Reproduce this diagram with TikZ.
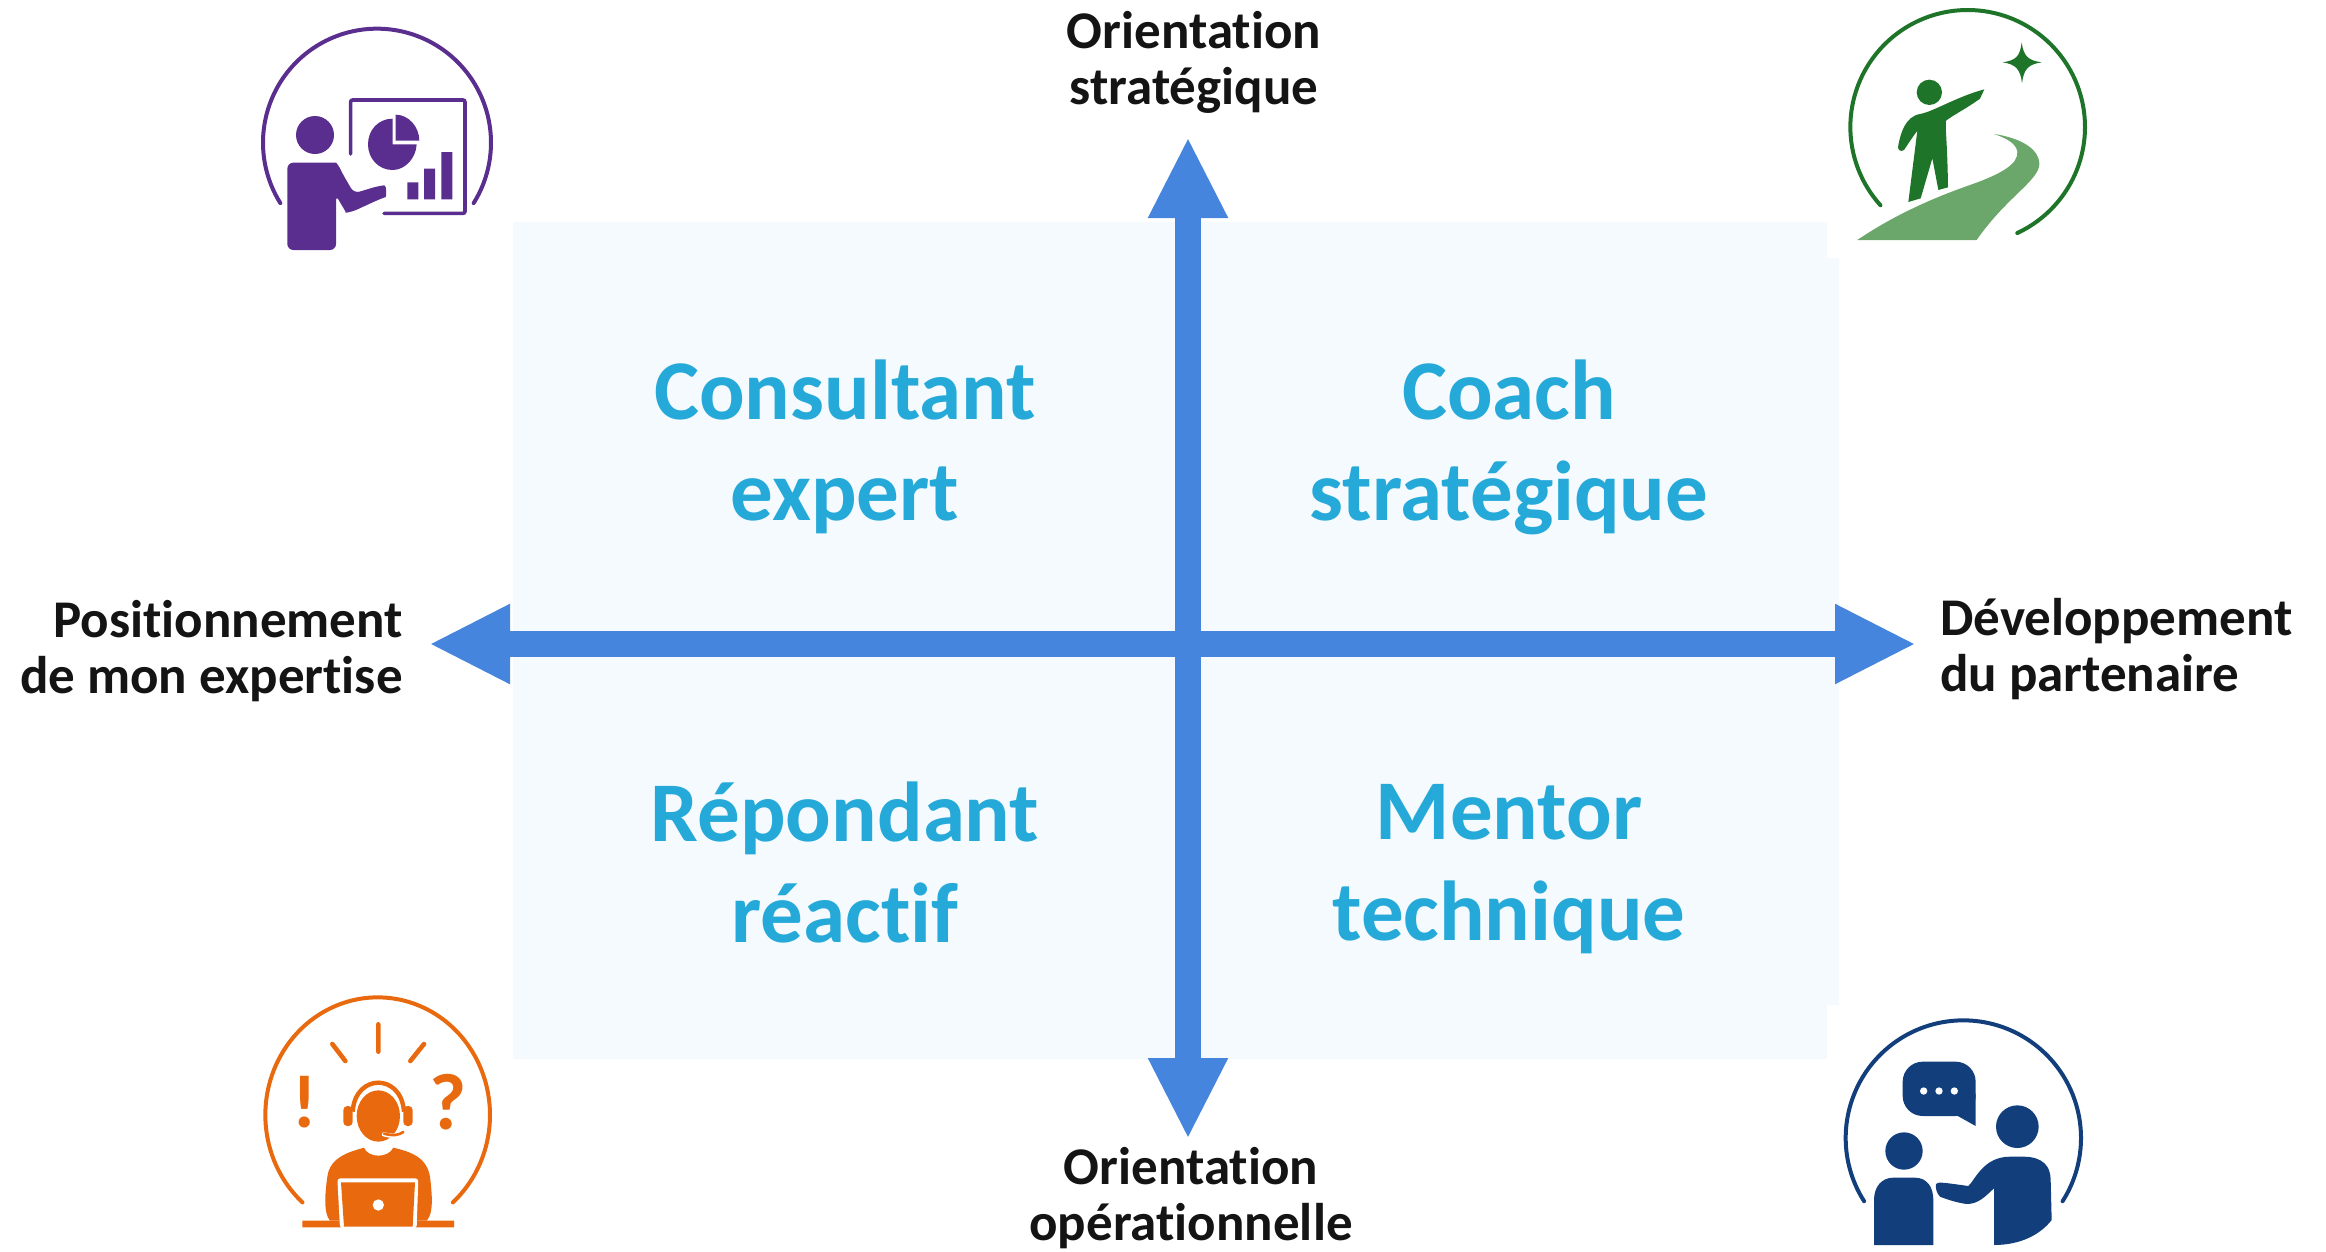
\documentclass[tikz,border=0pt]{standalone}
\usepackage{fontspec}
\setmainfont{Carlito}[Ligatures=NoCommon]
\usetikzlibrary{arrows.meta}
\definecolor{panelc}{HTML}{F4FAFD}
\definecolor{axisc}{HTML}{4585DD}
\definecolor{quadc}{HTML}{25A9D8}
\definecolor{labelc}{HTML}{141414}
\definecolor{purplec}{HTML}{5A2E8E}
\definecolor{greenc}{HTML}{1E7529}
\definecolor{roadc}{HTML}{6BA76B}
\definecolor{orangec}{HTML}{E9690F}
\definecolor{bluec}{HTML}{123F7C}
\tikzset{
  axisline/.style={draw=axisc,line width=26pt,{Triangle[length=81pt,width=74pt]}-{Triangle[length=81pt,width=74pt]}},
  quadlabel/.style={text=quadc,font=\fontsize{85}{101}\selectfont\bfseries,align=center,inner sep=0pt},
  axislabel/.style={text=labelc,font=\fontsize{53}{56}\selectfont\bfseries,inner sep=0pt},
  icon/.style={x=0.33333pt,y=-0.33333pt},
  hoopline/.style={line width=4pt,line cap=round,fill=none},
}
% centre x, centre y, rx, ry, start, end (angles, y pointing down)
\newcommand{\hoop}[7]{\draw[hoopline,draw=#1] plot[domain=#6:#7,samples=90,smooth] ({#2+#4*cos(\x)},{#3+#5*sin(\x)});}
\begin{document}
\begin{tikzpicture}[x=1pt,y=-1pt]
\useasboundingbox (0,0) rectangle (2326,1251);
% panel
\fill[panelc] (513,222) -- (1827,222) -- (1827,258) -- (1839,258) -- (1839,1005) -- (1827,1005) -- (1827,1059) -- (513,1059) -- cycle;
% axes
\coordinate (axisW) at (429,644);
\coordinate (axisE) at (1916,644);
\coordinate (axisN) at (1188,137);
\coordinate (axisS) at (1188,1139);
\draw[axisline] (axisW) -- (axisE);
\draw[axisline] (axisN) -- (axisS);
% quadrant labels
\node[quadlabel] (consultant) at (845,447) {Consultant\\expert};
\node[quadlabel] (coach) at (1509,447) {Coach\\stratégique};
\node[quadlabel] (repondant) at (845,862) {Répondant\\réactif};
\node[quadlabel] (mentor) at (1509,869) {Mentor\\technique};
% axis labels
\node[axislabel,align=center] (north) at (1194,62.5) {Orientation\\stratégique};
\node[axislabel,align=center] (south) at (1191,1198.5) {Orientation\\opérationnelle};
\node[axislabel,align=right,anchor=east] (west) at (403,651.5) {Positionnement\\de mon expertise};
\node[axislabel,align=left,anchor=west] (east) at (1940,649.5) {Développement\\du partenaire};
% purple icon
\begin{scope}[shift={(230,0)},icon]
\hoop{purplec}{441}{428}{342}{342}{148}{392}
\fill[purplec] (255,405) circle[radius=57];
\fill[purplec,rounded corners=6pt] (172,750) -- (172,488) -- (300,488) .. controls (320,488) and (330,505) .. (337,520) -- (372,580) -- (445,558) .. controls (470,555) and (470,590) .. (450,597) -- (365,636) .. controls (350,638) and (340,625) .. (318,585) -- (318,750) -- cycle;
\draw[purplec,line width=3.6pt,line cap=round,rounded corners=2pt] (362,462) -- (362,300) -- (705,300) -- (705,640) -- (462,640);
\fill[purplec] (488,433) -- (488,356) .. controls (445,356) and (414,390) .. (414,433) .. controls (414,475) and (445,510) .. (488,510) .. controls (525,510) and (558,475) .. (560,433) -- cycle;
\fill[purplec] (497,422) -- (497,344) .. controls (535,344) and (568,380) .. (568,422) -- cycle;
\fill[purplec] (532,547) rectangle (565,598) (582,506) rectangle (615,598) (634,456) rectangle (667,598);
\end{scope}
% green icon
\begin{scope}[shift={(1810,0)},icon]
\hoop{greenc}{473}{381}{352}{351}{138}{425}
\fill[roadc] (142,720) .. controls (260,640) and (380,590) .. (480,555) .. controls (580,520) and (625,490) .. (622,455) .. controls (618,430) and (590,415) .. (552,402) .. controls (620,412) and (685,440) .. (688,490) .. controls (690,540) and (590,590) .. (500,720) -- cycle;
\fill[greenc] (358,277) circle[radius=38];
\fill[greenc] (635,127) .. controls (641,170) and (655,181) .. (695,187) .. controls (655,193) and (641,207) .. (636,250) .. controls (631,207) and (617,193) .. (578,187) .. controls (617,181) and (630,170) .. (635,127) -- cycle;
\fill[greenc] (330,342) .. controls (370,335) and (440,290) .. (523,268) -- (510,296) .. controls (470,325) and (430,345) .. (408,362) .. controls (405,385) and (412,420) .. (414,562) -- (385,570) -- (367,475) -- (332,595) -- (295,606) -- (322,392) .. controls (305,415) and (292,435) .. (282,450) .. controls (272,458) and (260,448) .. (265,435) .. controls (272,400) and (285,350) .. (330,342) -- cycle;
\end{scope}
% orange icon
\begin{scope}[shift={(230,980)},icon]
\hoop{orangec}{443}{405}{337}{353}{132}{408}
\draw[orangec,line width=4.6pt,line cap=round] (445,133) -- (445,215) (307,192) -- (346,243) (582,192) -- (541,243);
\node[inner sep=0pt,text=orangec,font=\fontsize{75}{75}\selectfont\bfseries] (bang) at (225,365) {!};
\node[inner sep=0pt,text=orangec,font=\fontsize{80}{80}\selectfont\bfseries] (query) at (655,365) {?};
\draw[orangec,line width=4.4pt] (368,395) .. controls (372,335) and (410,308) .. (445,308) .. controls (480,308) and (518,335) .. (522,395);
\fill[orangec,rounded corners=4pt] (340,378) rectangle (368,438);
\fill[orangec,rounded corners=4pt] (520,378) rectangle (548,438);
\fill[orangec] (445,408) ellipse[x radius=65,y radius=77];
\draw[white,line width=4.4pt,line cap=round] (462,463) .. controls (490,470) and (505,468) .. (520,458);
\draw[orangec,line width=2.6pt,line cap=round] (462,461) .. controls (490,468) and (505,466) .. (520,456);
\fill[orangec] (300,722) .. controls (280,700) and (285,640) .. (292,590) .. controls (300,530) and (360,515) .. (402,503) .. controls (415,535) and (475,535) .. (490,503) .. controls (540,515) and (590,530) .. (600,590) .. controls (606,640) and (612,700) .. (590,722) -- cycle;
\fill[orangec] (217,722) rectangle (340,742) (550,722) rectangle (672,742);
\fill[white,rounded corners=3pt] (322,595) -- (565,595) -- (560,745) -- (330,745) -- cycle;
\fill[orangec] (333,607) -- (555,607) -- (548,740) -- (342,740) -- cycle;
\fill[white] (445,675) circle[radius=17];
\end{scope}
% blue icon
\begin{scope}[shift={(1810,1000)},icon]
\hoop{bluec}{460}{414}{353}{353}{147.5}{392.5}
\fill[bluec,rounded corners=20pt] (278,185) rectangle (497,348);
\fill[bluec] (497,280) -- (497,378) -- (438,345) -- cycle;
\fill[white] (341,273) circle[radius=11] (387,273) circle[radius=11] (433,273) circle[radius=11];
\fill[bluec] (622,380) circle[radius=64];
\fill[bluec] (282,453) circle[radius=56];
\fill[bluec] (192,735) -- (192,600) .. controls (192,560) and (215,533) .. (250,533) -- (315,533) .. controls (350,533) and (370,560) .. (370,600) -- (370,735) -- cycle;
\fill[bluec] (378,552) .. controls (385,545) and (395,547) .. (475,558) .. controls (495,540) and (520,470) .. (600,470) -- (640,470) .. controls (700,470) and (722,500) .. (722,540) -- (725,660) .. controls (690,705) and (630,735) .. (552,735) -- (552,565) .. controls (525,590) and (505,612) .. (470,612) .. controls (440,608) and (410,598) .. (390,590) .. controls (380,580) and (376,565) .. (378,552) -- cycle;
\end{scope}
\end{tikzpicture}
\end{document}
